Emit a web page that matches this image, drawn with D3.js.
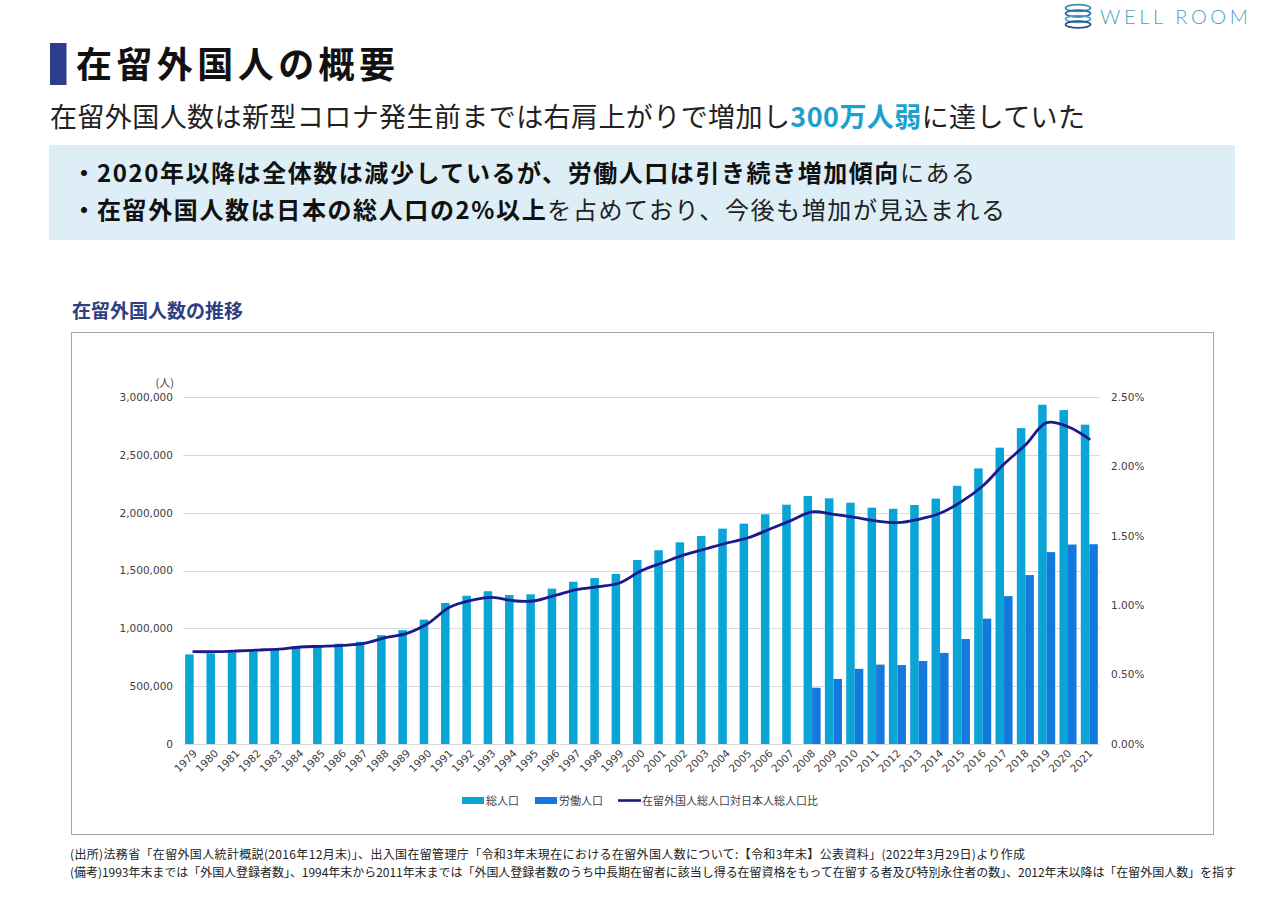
<!DOCTYPE html>
<html lang="ja">
<head>
<meta charset="utf-8">
<script src="https://cdn.jsdelivr.net/npm/d3@7"></script>
<style>
  html, body { margin: 0; padding: 0; background: #fff; }
  svg { display: block; font-family: 'Noto Sans CJK JP', 'Noto Sans', sans-serif; }
</style>
</head>
<body>
<svg id="chart" width="1270" height="904"></svg>
<script>
// ---------- data ----------
const years = ["1979","1980","1981","1982","1983","1984","1985","1986","1987","1988",
  "1989","1990","1991","1992","1993","1994","1995","1996","1997","1998",
  "1999","2000","2001","2002","2003","2004","2005","2006","2007","2008",
  "2009","2010","2011","2012","2013","2014","2015","2016","2017","2018",
  "2019","2020","2021"];
const totalPop = [774505, 782910, 792946, 802477, 817129, 840885, 850612, 867237, 884025, 941005,
  984455, 1075317, 1218891, 1281644, 1320748, 1288000, 1294000, 1343000, 1403000, 1435000,
  1470000, 1591000, 1675000, 1744000, 1798000, 1862000, 1905000, 1986000, 2069000, 2144000,
  2124000, 2086000, 2043000, 2033656, 2066445, 2121831, 2232189, 2382822, 2561848, 2731093,
  2933137, 2887116, 2760635];
const workYears = ["2008","2009","2010","2011","2012","2013","2014","2015","2016","2017","2018","2019","2020","2021"];
const workPop = [486398, 562818, 649982, 686246, 682450, 717504, 787627, 907896, 1083769, 1278670, 1460463, 1658804, 1724328, 1727221];
const ratioPct = [0.665,0.665,0.67,0.677,0.684,0.699,0.704,0.711,0.725,0.766,
  0.797,0.87,0.985,1.035,1.057,1.032,1.032,1.073,1.114,1.133,
  1.162,1.249,1.306,1.362,1.405,1.448,1.486,1.547,1.609,1.672,
  1.655,1.633,1.607,1.595,1.619,1.662,1.746,1.859,2.017,2.154,
  2.315,2.286,2.197];
const leftTicks = [0, 500000, 1000000, 1500000, 2000000, 2500000, 3000000];
const rightTicks = [0, 0.5, 1.0, 1.5, 2.0, 2.5];
const seriesNames = ["総人口", "労働人口", "在留外国人総人口対日本人総人口比"];

// ---------- layout ----------
const svg = d3.select("#chart");
const C_TOTAL = "#0aa5d6", C_WORK = "#1479df", C_LINE = "#1a1a8c";
const plot = { left: 183, right: 1100, top: 397, bottom: 744 };

// ---------- header ----------
// logo
const logo = svg.append("g");
[[1078, 8, 12.5, 3.4, "#3d8fb0"], [1078, 13.5, 12.5, 3.4, "#2a6f9c"], [1078, 19, 12.5, 3.4, "#4aa8bf"], [1078, 24.5, 12.5, 3.4, "#2f4f8a"]]
  .forEach(([cx, cy, rx, ry, c]) => logo.append("ellipse").attr("cx", cx).attr("cy", cy).attr("rx", rx).attr("ry", ry)
    .attr("fill", "none").attr("stroke", c).attr("stroke-width", 1.7));
logo.append("text").attr("x", 1100).attr("y", 24).attr("font-size", 20).attr("font-weight", 300)
  .attr("textLength", 148).attr("lengthAdjust", "spacing")
  .attr("fill", "#4aa3b6").style("font-family", "Lato, 'Open Sans', sans-serif").text("WELL ROOM");

svg.append("rect").attr("x", 50).attr("y", 43).attr("width", 16.5).attr("height", 42).attr("fill", "#2c3e8c");
svg.append("text").attr("x", 76).attr("y", 78).attr("font-size", 36).attr("font-weight", 700)
  .attr("fill", "#111").attr("textLength", 319).attr("lengthAdjust", "spacing").text("在留外国人の概要");

const sub = svg.append("text").attr("x", 50).attr("y", 127).attr("font-size", 27).attr("fill", "#222");
sub.append("tspan").text("在留外国人数は新型コロナ発生前までは右肩上がりで増加し");
sub.append("tspan").attr("font-weight", 700).attr("fill", "#1ba1d1").text("300万人弱");
sub.append("tspan").text("に達していた");
sub.attr("textLength", 1035).attr("lengthAdjust", "spacing");

svg.append("rect").attr("x", 49).attr("y", 145).attr("width", 1186).attr("height", 95).attr("fill", "#ddeef6");
function bullet(y, boldTxt, normTxt, len) {
  svg.append("text").attr("x", 72).attr("y", y).attr("font-size", 24).attr("font-weight", 700).attr("fill", "#111").text("・");
  const t = svg.append("text").attr("x", 97).attr("y", y).attr("font-size", 24).attr("fill", "#222");
  t.append("tspan").attr("font-weight", 700).attr("fill", "#111").text(boldTxt);
  t.append("tspan").text(normTxt);
  t.attr("textLength", len).attr("lengthAdjust", "spacing");
}
bullet(182, "2020年以降は全体数は減少しているが、労働人口は引き続き増加傾向", "にある", 878);
bullet(219, "在留外国人数は日本の総人口の2%以上", "を占めており、今後も増加が見込まれる", 908);

svg.append("text").attr("x", 72).attr("y", 318).attr("font-size", 19).attr("font-weight", 700)
  .attr("fill", "#2f3f80").text("在留外国人数の推移");

// chart frame
svg.append("rect").attr("x", 71.5).attr("y", 332.5).attr("width", 1142).attr("height", 502)
  .attr("fill", "none").attr("stroke", "#a6a6a6").attr("stroke-width", 1);

// ---------- scales ----------
const x = d3.scaleBand().domain(years).range([plot.left, plot.right]).paddingInner(0).paddingOuter(0);
const xSub = d3.scaleBand().domain(["total", "work"]).range([0, x.bandwidth()]).paddingInner(0).paddingOuter(0.25);
const y = d3.scaleLinear().domain([0, 3000000]).range([plot.bottom, plot.top]);
const y2 = d3.scaleLinear().domain([0, 2.5]).range([plot.bottom, plot.top]);

// gridlines
svg.append("g").selectAll("line").data(leftTicks).join("line")
  .attr("x1", plot.left).attr("x2", plot.right)
  .attr("y1", d => Math.round(y(d)) + 0.5).attr("y2", d => Math.round(y(d)) + 0.5)
  .attr("stroke", "#d9d9d9").attr("stroke-width", 1);

// left axis
const gL = svg.append("g").attr("transform", `translate(${plot.left},0)`)
  .call(d3.axisLeft(y).tickValues(leftTicks).tickFormat(d3.format(",")).tickSize(0).tickPadding(10));
gL.select(".domain").remove();
gL.selectAll("text").attr("fill", "#404040").style("font-family", "'DejaVu Sans', Verdana, sans-serif").attr("font-size", 10.5);
svg.append("text").attr("x", 174).attr("y", 387).attr("text-anchor", "end").attr("font-size", 11).attr("fill", "#404040").text("(人)");

// right axis
const gR = svg.append("g").attr("transform", `translate(${plot.right},0)`)
  .call(d3.axisRight(y2).tickValues(rightTicks).tickFormat(d => d3.format(".2f")(d) + "%").tickSize(0).tickPadding(11));
gR.select(".domain").remove();
gR.selectAll("text").attr("fill", "#404040").style("font-family", "'DejaVu Sans', Verdana, sans-serif").attr("font-size", 10.5);

// bars
svg.append("g").selectAll("rect").data(years.map((yr, i) => ({ yr, v: totalPop[i] }))).join("rect")
  .attr("x", d => x(d.yr) + xSub("total")).attr("width", xSub.bandwidth())
  .attr("y", d => y(d.v)).attr("height", d => y(0) - y(d.v)).attr("fill", C_TOTAL);
svg.append("g").selectAll("rect").data(workYears.map((yr, i) => ({ yr, v: workPop[i] }))).join("rect")
  .attr("x", d => x(d.yr) + xSub("work")).attr("width", xSub.bandwidth())
  .attr("y", d => y(d.v)).attr("height", d => y(0) - y(d.v)).attr("fill", C_WORK);

// baseline
svg.append("line").attr("x1", plot.left).attr("x2", plot.right).attr("y1", plot.bottom + 0.5).attr("y2", plot.bottom + 0.5)
  .attr("stroke", "#d9d9d9");

// ratio line
const line = d3.line().x((d, i) => x(years[i]) + x.bandwidth() / 2).y(d => y2(d)).curve(d3.curveCatmullRom.alpha(0.5));
svg.append("path").datum(ratioPct).attr("d", line).attr("fill", "none").attr("stroke", C_LINE)
  .attr("stroke-width", 2.8).attr("stroke-linejoin", "round").attr("stroke-linecap", "round");

// x axis labels
const gX = svg.append("g").attr("transform", `translate(0,${plot.bottom})`)
  .call(d3.axisBottom(x).tickSize(0).tickPadding(0));
gX.select(".domain").remove();
gX.selectAll("text").attr("text-anchor", "end").attr("dy", 0).attr("y", 0)
  .attr("transform", "translate(4,10) rotate(-45)")
  .attr("font-size", 10.5).attr("fill", "#404040").style("font-family", "'DejaVu Sans', Verdana, sans-serif");

// legend
const leg = svg.append("g").attr("font-size", 11).attr("fill", "#404040");
const legItems = [
  { x: 462, type: "rect", color: C_TOTAL, name: seriesNames[0] },
  { x: 535, type: "rect", color: C_WORK, name: seriesNames[1] },
  { x: 618, type: "line", color: C_LINE, name: seriesNames[2] }
];
legItems.forEach(it => {
  if (it.type === "rect") leg.append("rect").attr("x", it.x).attr("y", 797).attr("width", 22).attr("height", 7).attr("fill", it.color);
  else leg.append("line").attr("x1", it.x).attr("x2", it.x + 23).attr("y1", 800.5).attr("y2", 800.5).attr("stroke", it.color).attr("stroke-width", 2.6);
  leg.append("text").attr("x", it.x + 24).attr("y", 804.5).attr("fill", "#404040").text(it.name);
});

// footnotes
const fn = svg.append("g").attr("font-size", 12).attr("fill", "#222");
fn.append("text").attr("x", 70).attr("y", 859).attr("textLength", 955).attr("lengthAdjust", "spacing")
  .text("(出所)法務省「在留外国人統計概説(2016年12月末)」、出入国在留管理庁「令和3年末現在における在留外国人数について:【令和3年末】公表資料」(2022年3月29日)より作成");
fn.append("text").attr("x", 70).attr("y", 877).attr("textLength", 1166).attr("lengthAdjust", "spacing")
  .text("(備考)1993年末までは「外国人登録者数」、1994年末から2011年末までは「外国人登録者数のうち中長期在留者に該当し得る在留資格をもって在留する者及び特別永住者の数」、2012年末以降は「在留外国人数」を指す");
</script>
</body>
</html>
